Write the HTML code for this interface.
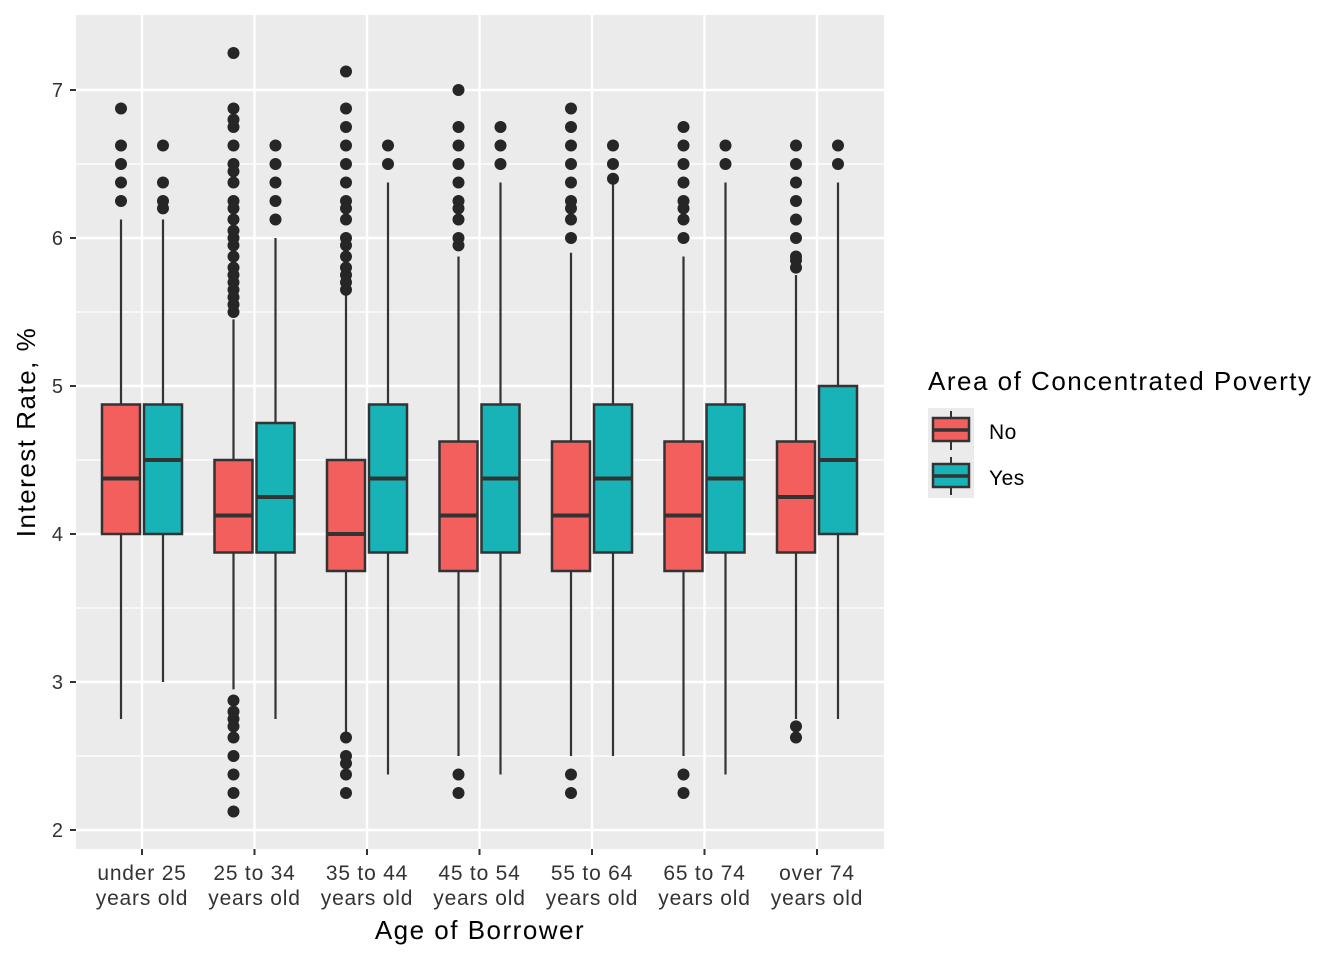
<!DOCTYPE html>
<html><head><meta charset="utf-8"><style>
body{margin:0;background:#fff;font-family:"Liberation Sans",Arial,sans-serif}
svg{display:block}
</style></head><body>
<svg id="chart" width="1344" height="960" font-family="Liberation Sans, Arial, sans-serif">
<rect x="76" y="15" width="808" height="834" fill="#ebebeb"/>
<g id="grid"></g>
<g id="marks"></g>
<g id="axes"></g>
<text x="480" y="939" font-size="26" letter-spacing="1.5" text-anchor="middle" fill="#000">Age of Borrower</text>
<text transform="translate(35,432) rotate(-90)" font-size="26" letter-spacing="1.5" text-anchor="middle" fill="#000">Interest Rate, %</text>
<g>
<text x="928" y="390" font-size="26" letter-spacing="1.5" fill="#000">Area of Concentrated Poverty</text>
<rect x="928" y="408" width="46" height="90" fill="#ebebeb"/>
<g>
<line x1="951" y1="411" x2="951" y2="450" stroke="#333" stroke-width="2"/>
<rect x="933" y="418" width="36" height="23" fill="#f25f5c" stroke="#333" stroke-width="2.5"/>
<line x1="933" y1="430" x2="969" y2="430" stroke="#333" stroke-width="3.5"/>
<text x="989" y="439" font-size="21" letter-spacing="0.5" fill="#000">No</text></g>
<g>
<line x1="951" y1="457" x2="951" y2="495" stroke="#333" stroke-width="2"/>
<rect x="933" y="464" width="36" height="23" fill="#17b3b7" stroke="#333" stroke-width="2.5"/>
<line x1="933" y1="476" x2="969" y2="476" stroke="#333" stroke-width="3.5"/>
<text x="989" y="485" font-size="21" letter-spacing="0.5" fill="#000">Yes</text></g>
</g>
</svg>
<script>
const categories=["under 25|years old","25 to 34|years old","35 to 44|years old","45 to 54|years old","55 to 64|years old","65 to 74|years old","over 74|years old"];
const yTicks=[2,3,4,5,6,7];
// [lowerWhisker,q1,median,q3,upperWhisker]
const statsNo=[[2.75,4,4.375,4.875,6.125],[2.95,3.875,4.125,4.5,5.45],[2.65,3.75,4,4.5,5.625],[2.5,3.75,4.125,4.625,5.875],[2.5,3.75,4.125,4.625,5.9],[2.5,3.75,4.125,4.625,5.875],[2.75,3.875,4.25,4.625,5.75]];
const statsYes=[[3,4,4.5,4.875,6.125],[2.75,3.875,4.25,4.75,6],[2.375,3.875,4.375,4.875,6.375],[2.375,3.875,4.375,4.875,6.375],[2.5,3.875,4.375,4.875,6.375],[2.375,3.875,4.375,4.875,6.375],[2.75,4,4.5,5,6.375]];
const outNo=[[6.25,6.375,6.5,6.625,6.875],
[5.5,5.55,5.6,5.65,5.7,5.75,5.8,5.875,5.95,6,6.05,6.125,6.2,6.25,6.375,6.45,6.5,6.625,6.75,6.8,6.875,7.25,2.875,2.8,2.75,2.7,2.625,2.5,2.375,2.25,2.125],
[5.65,5.7,5.75,5.8,5.875,5.95,6,6.125,6.2,6.25,6.375,6.5,6.625,6.75,6.875,7.125,2.625,2.5,2.45,2.375,2.25],
[5.95,6,6.125,6.2,6.25,6.375,6.5,6.625,6.75,7,2.375,2.25],
[6,6.125,6.2,6.25,6.375,6.5,6.625,6.75,6.875,2.375,2.25],
[6,6.125,6.2,6.25,6.375,6.5,6.625,6.75,2.375,2.25],
[5.8,5.85,5.875,6,6.125,6.25,6.375,6.5,6.625,2.7,2.625]];
const outYes=[[6.2,6.25,6.375,6.625],[6.125,6.25,6.375,6.5,6.625],[6.5,6.625],[6.5,6.625,6.75],[6.4,6.5,6.625],[6.5,6.625],[6.5,6.625]];
const NS="http://www.w3.org/2000/svg";
const xC=i=>142+i*112.5, yS=v=>830-(v-2)*148;
function mk(p,tag,a){const e=document.createElementNS(NS,tag);for(const k in a)e.setAttribute(k,a[k]);p.appendChild(e);return e;}
const grid=document.getElementById('grid'),marks=document.getElementById('marks'),axes=document.getElementById('axes');
for(let v=2.5;v<7.5;v+=1){const l=mk(grid,'line',{x1:76,x2:884,y1:yS(v),y2:yS(v),stroke:'#fff','stroke-width':1.2});

}
yTicks.forEach(v=>{const l=mk(grid,'line',{x1:76,x2:884,y1:yS(v),y2:yS(v),stroke:'#fff','stroke-width':2.4});


const t=mk(axes,'line',{x1:70,x2:76,y1:yS(v),y2:yS(v),stroke:'#333','stroke-width':2});


const tx=mk(axes,'text',{x:63,y:yS(v)+7,'font-size':20,'text-anchor':'end',fill:'#333'});tx.textContent=v;

});
categories.forEach((c,i)=>{const l=mk(grid,'line',{x1:xC(i),x2:xC(i),y1:15,y2:849,stroke:'#fff','stroke-width':2.4});


const t=mk(axes,'line',{x1:xC(i),x2:xC(i),y1:849,y2:855,stroke:'#333','stroke-width':2});


c.split('|').forEach((s,j)=>{const tx=mk(axes,'text',{x:xC(i),y:880+j*25,'font-size':21,'letter-spacing':0.8,'text-anchor':'middle',fill:'#333'});tx.textContent=s;

});});
function box(cx,s,outs,fill,name){const g=mk(marks,'g',{});


mk(g,'line',{x1:cx,x2:cx,y1:yS(s[0]),y2:yS(s[1]),stroke:'#333','stroke-width':2.2});
mk(g,'line',{x1:cx,x2:cx,y1:yS(s[3]),y2:yS(s[4]),stroke:'#333','stroke-width':2.2});
mk(g,'rect',{x:cx-19,y:yS(s[3]),width:38,height:yS(s[1])-yS(s[3]),fill:fill,stroke:'#333','stroke-width':2.5});
mk(g,'line',{x1:cx-19,x2:cx+19,y1:yS(s[2]),y2:yS(s[2]),stroke:'#333','stroke-width':4});
outs.forEach(o=>mk(g,'circle',{cx:cx,cy:yS(o),r:6,fill:'#262626'}));}
categories.forEach((c,i)=>{box(xC(i)-21,statsNo[i],outNo[i],'#f25f5c','box-no-'+i);box(xC(i)+21,statsYes[i],outYes[i],'#17b3b7','box-yes-'+i);});
</script>
</body></html>
